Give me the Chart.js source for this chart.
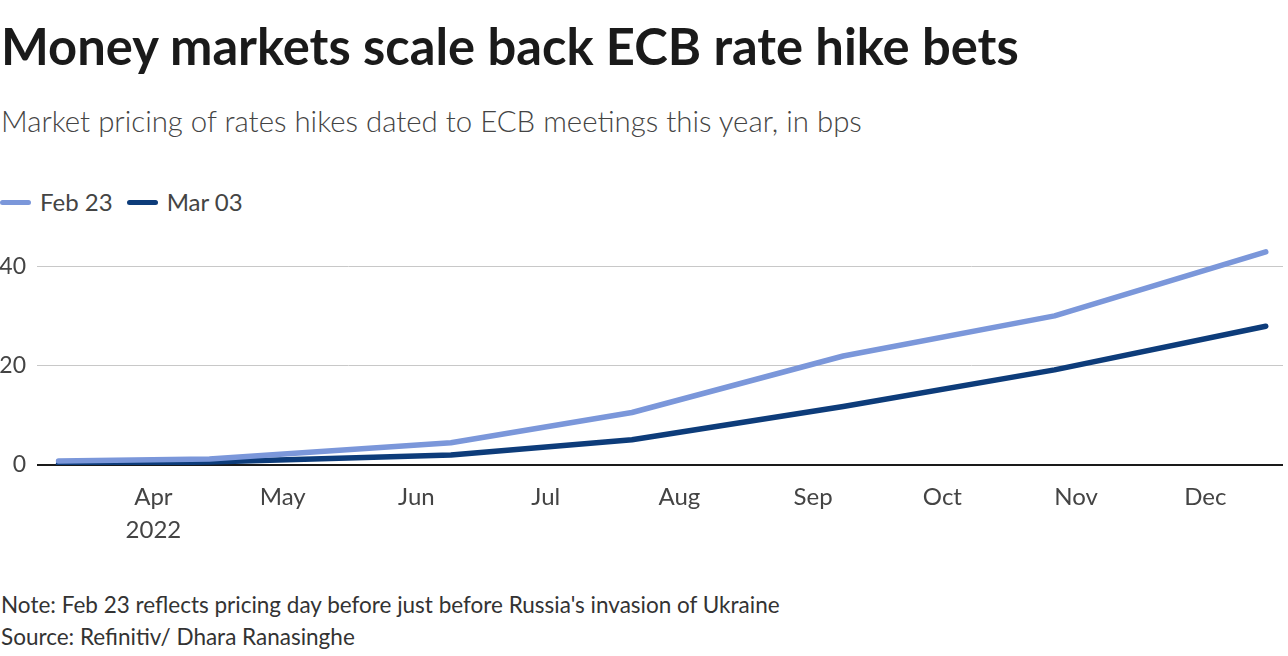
<!DOCTYPE html>
<html>
<head>
<meta charset="utf-8">
<script src="https://cdn.jsdelivr.net/npm/chart.js@4"></script>
<style>
  html, body { margin: 0; padding: 0; background: #fff; }
  body { width: 1288px; height: 656px; position: relative; overflow: hidden; font-family: Lato, 'Noto Sans', sans-serif; color: #222; }
  #title { position: absolute; left: 1px; top: 15px; font-size: 50.7px; font-weight: 700; color: #1a1a1a; white-space: nowrap; }
  #subtitle { position: absolute; left: 1px; top: 103px; font-size: 29.4px; font-weight: 300; color: #444; white-space: nowrap; }
  #legend { position: absolute; left: 0; top: 187px; font-size: 24px; color: #444; white-space: nowrap; }
  #legend span.item { display: inline-block; margin-right: 14px; }
  #legend span.swatch { display: inline-block; width: 31px; height: 5px; border-radius: 3px; vertical-align: middle; margin-right: 9px; position: relative; top: -2px; }
  #chart-wrap { position: absolute; left: 0; top: 230px; width: 1288px; height: 330px; }
  #notes { position: absolute; left: 1px; top: 589px; font-size: 22.5px; line-height: 32px; color: #333; white-space: nowrap; }
</style>
</head>
<body>
<div id="title">Money markets scale back ECB rate hike bets</div>
<div id="subtitle">Market pricing of rates hikes dated to ECB meetings this year, in bps</div>
<div id="legend"></div>
<div id="chart-wrap"><canvas id="myChart"></canvas></div>
<div id="notes">
  Note: Feb 23 reflects pricing day before just before Russia's invasion of Ukraine<br>
  Source: Refinitiv/ Dhara Ranasinghe
</div>
<script>
// ECB meeting dates (2022) and priced hikes in bps
const meetings = ['2022-03-10', '2022-04-14', '2022-06-09', '2022-07-21', '2022-09-08', '2022-10-27', '2022-12-15'];
const feb23 = [0.8, 1.2, 4.5, 10.6, 22.0, 30.1, 43.0];
const mar03 = [0.2, 0.6, 2.0, 5.1, 11.8, 19.2, 28.0];

const seriesNames = ['Feb 23', 'Mar 03'];
const seriesColors = ['#7b97da', '#0d3c7a'];

// x tick labels at month starts
const monthTicks = ['2022-04-01', '2022-05-01', '2022-06-01', '2022-07-01', '2022-08-01', '2022-09-01', '2022-10-01', '2022-11-01', '2022-12-01'];
const monthLabels = [['Apr', '2022'], 'May', 'Jun', 'Jul', 'Aug', 'Sep', 'Oct', 'Nov', 'Dec'];
const yTicks = [0, 20, 40];

// day of year, so a linear scale can stand in for a time scale
function dayOfYear(s) {
  const d = new Date(s + 'T00:00:00Z');
  return (d - Date.UTC(2022, 0, 1)) / 86400000 + 1;
}
const meetingDays = meetings.map(dayOfYear);
const tickDays = monthTicks.map(dayOfYear);

const legend = document.getElementById('legend');
seriesNames.forEach((name, i) => {
  const item = document.createElement('span');
  item.className = 'item';
  item.innerHTML = '<span class="swatch" style="background:' + seriesColors[i] + '"></span>' + name;
  legend.appendChild(item);
});

const toPoints = vals => vals.map((v, i) => ({ x: meetingDays[i], y: v }));

const ctx = document.getElementById('myChart');
new Chart(ctx, {
  type: 'line',
  data: {
    datasets: [feb23, mar03].map((vals, i) => ({
      label: seriesNames[i],
      data: toPoints(vals),
      borderColor: seriesColors[i],
      backgroundColor: seriesColors[i],
      borderWidth: 5.5,
      borderCapStyle: 'round',
      borderJoinStyle: 'round',
      pointRadius: 0,
      tension: 0
    }))
  },
  options: {
    responsive: true,
    maintainAspectRatio: false,
    animation: false,
    layout: { padding: { top: 12, right: 5, left: 0, bottom: 0 } },
    plugins: {
      legend: { display: false },
      tooltip: { enabled: false }
    },
    scales: {
      x: {
        type: 'linear',
        min: 64,
        max: 353,
        border: { display: false },
        grid: { display: false, drawTicks: false },
        afterBuildTicks: scale => { scale.ticks = tickDays.map(v => ({ value: v })); },
        afterFit: scale => { scale.height = 95; scale.paddingLeft = 0; scale.paddingRight = 0; },
        ticks: {
          padding: 15,
          maxRotation: 0,
          autoSkip: false,
          color: '#444',
          font: { family: 'Lato', size: 24, lineHeight: 1.4 },
          callback: function(value) {
            const i = tickDays.indexOf(value);
            return i >= 0 ? monthLabels[i] : '';
          }
        }
      },
      y: {
        min: 0,
        max: 45,
        border: { display: false },
        grid: {
          drawTicks: false,
          color: c => c.tick && c.tick.value === 0 ? '#1a1a1a' : '#c8c8c8',
          lineWidth: c => c.tick && c.tick.value === 0 ? 2 : 1
        },
        afterBuildTicks: scale => { scale.ticks = yTicks.map(v => ({ value: v })); },
        afterFit: scale => { scale.width = 37; scale.paddingTop = 0; scale.paddingBottom = 0; },
        ticks: {
          padding: 11,
          color: '#444',
          font: { family: 'Lato', size: 23 }
        }
      }
    }
  }
});
</script>
</body>
</html>
